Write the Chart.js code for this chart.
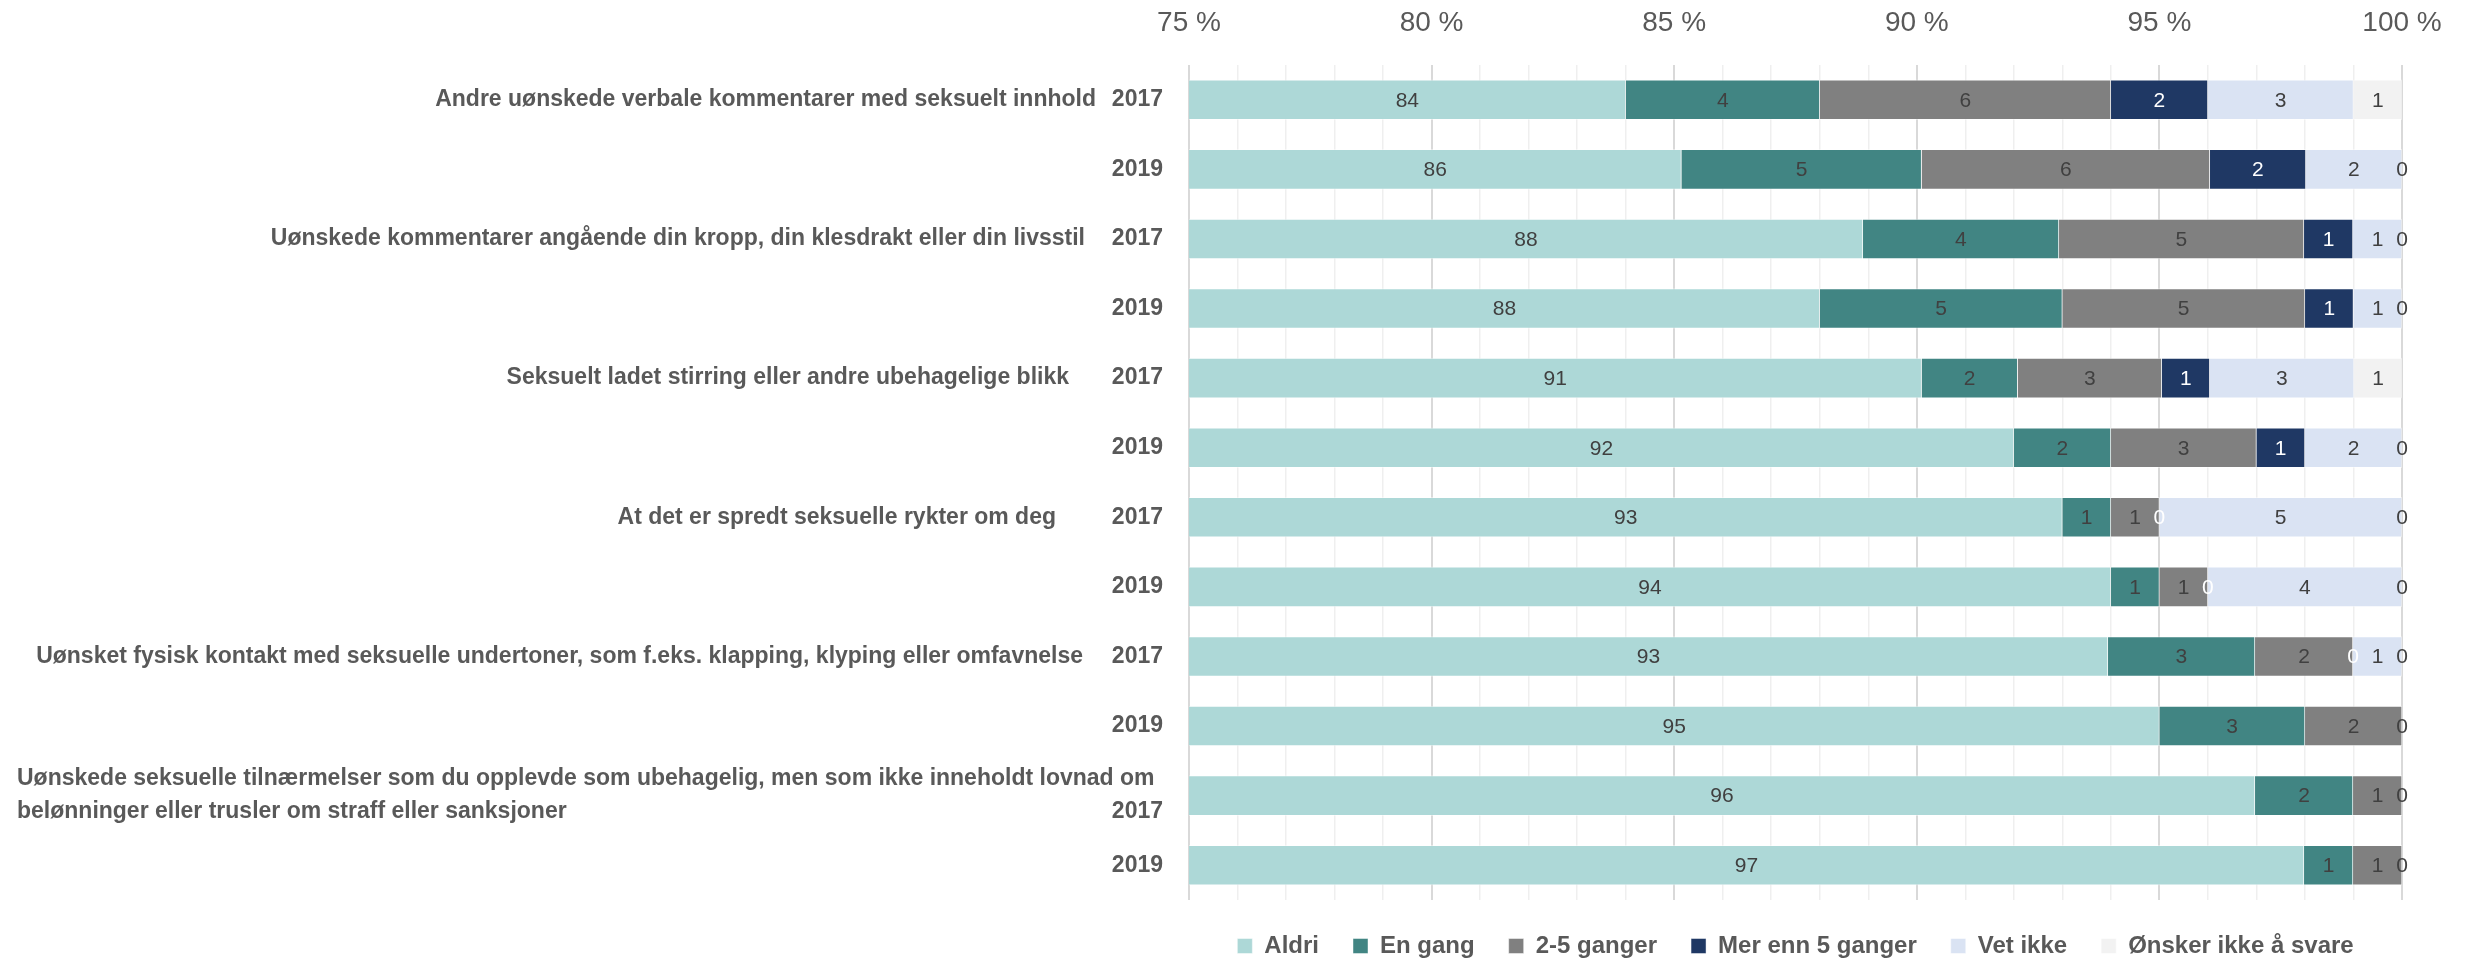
<!DOCTYPE html>
<html><head><meta charset="utf-8">
<script src="https://cdn.jsdelivr.net/npm/chart.js@4"></script>
<style>html,body{margin:0;padding:0;background:#fff}</style>
</head><body>
<canvas id="c" width="2471" height="960"></canvas>
<script>
// ---- data ----
const years = ['2017', '2019'];
const questions = [
  'Andre uønskede verbale kommentarer med seksuelt innhold',
  'Uønskede kommentarer angående din kropp, din klesdrakt eller din livsstil',
  'Seksuelt ladet stirring eller andre ubehagelige blikk',
  'At det er spredt seksuelle rykter om deg',
  'Uønsket fysisk kontakt med seksuelle undertoner, som f.eks. klapping, klyping eller omfavnelse',
  ['Uønskede seksuelle tilnærmelser som du opplevde som ubehagelig, men som ikke inneholdt lovnad om',
   'belønninger eller trusler om straff eller sanksjoner']
];
const seriesNames = ['Aldri', 'En gang', '2-5 ganger', 'Mer enn 5 ganger', 'Vet ikke', 'Ønsker ikke å svare'];
const aldri    = [84, 86, 88, 88, 91, 92, 93, 94, 93, 95, 96, 97];
const enGang   = [4, 5, 4, 5, 2, 2, 1, 1, 3, 3, 2, 1];
const ganger25 = [6, 6, 5, 5, 3, 3, 1, 1, 2, 2, 1, 1];
const merEnn5  = [2, 2, 1, 1, 1, 1, 0, 0, 0, null, null, null];
const vetIkke  = [3, 2, 1, 1, 3, 2, 5, 4, 1, null, null, null];
const onsker   = [1, 0, 0, 0, 1, 0, 0, 0, 0, 0, 0, 0];

// ---- styles ----
const seriesColors = ['#ADD8D7', '#418583', '#808080', '#1F3864', '#DAE3F3', '#F2F2F2'];
const labelColors  = ['#404040', '#404040', '#404040', '#FFFFFF', '#404040', '#404040'];
const questionRight = [1096, 1085, 1069, 1056, 1083, null];
const FONT = '"Liberation Sans", Arial, sans-serif';
const TEXT = '#595959';

// ---- build ----
const rawSeries = [aldri, enGang, ganger25, merEnn5, vetIkke, onsker];
const rowSums = aldri.map((_, i) => rawSeries.reduce((s, a) => s + (a[i] == null ? 0 : a[i]), 0));
const categories = [];
questions.forEach(q => years.forEach(y => categories.push((Array.isArray(q) ? q.join(' ') : q) + ' ' + y)));

const datasets = rawSeries.map((arr, k) => ({
  label: seriesNames[k],
  data: arr.map((v, i) => v == null ? null : v / rowSums[i] * 100),
  rawValues: arr,
  backgroundColor: seriesColors[k],
  borderColor: 'rgba(255,255,255,0.45)',
  borderWidth: 1,
  barThickness: 40
}));

Chart.defaults.font.family = FONT;

const valueLabels = {
  id: 'valueLabels',
  afterDatasetsDraw(chart) {
    const {ctx, chartArea} = chart;
    ctx.save();
    ctx.font = '21px ' + FONT;
    ctx.textAlign = 'center';
    ctx.textBaseline = 'middle';
    chart.data.datasets.forEach((ds, di) => {
      const meta = chart.getDatasetMeta(di);
      if (meta.hidden) return;
      meta.data.forEach((el, i) => {
        const v = ds.rawValues[i];
        if (v == null) return;
        const p = el.getProps(['x', 'base', 'y'], true);
        const l = Math.max(Math.min(p.x, p.base), chartArea.left);
        const r = Math.min(Math.max(p.x, p.base), chartArea.right);
        ctx.fillStyle = labelColors[di];
        ctx.fillText(String(v), (l + r) / 2, p.y + 1);
      });
    });
    ctx.restore();
  }
};

const questionLabels = {
  id: 'questionLabels',
  afterDraw(chart) {
    const {ctx} = chart;
    const ys = chart.scales.y;
    ctx.save();
    ctx.font = 'bold 23px ' + FONT;
    ctx.fillStyle = TEXT;
    ctx.textBaseline = 'middle';
    questions.forEach((q, g) => {
      const y = ys.getPixelForValue(g * years.length);
      if (Array.isArray(q)) {
        ctx.textAlign = 'left';
        q.forEach((line, j) => ctx.fillText(line, 17, y + (j - (q.length - 1) / 2) * 33));
      } else {
        ctx.textAlign = 'right';
        ctx.fillText(q, questionRight[g], y);
      }
    });
    ctx.restore();
  }
};

new Chart(document.getElementById('c'), {
  type: 'bar',
  data: {labels: categories, datasets},
  options: {
    indexAxis: 'y',
    responsive: false,
    animation: false,
    layout: {padding: {left: 0, right: 69, top: 0, bottom: 0}},
    scales: {
      x: {
        type: 'linear',
        position: 'top',
        stacked: true,
        min: 75,
        max: 100,
        border: {display: false},
        grid: {
          drawTicks: false,
          color: c => (c.tick && c.tick.value % 5 === 0) ? '#D9D9D9' : '#EFEFEF',
          lineWidth: c => (c.tick && c.tick.value % 5 === 0) ? 2 : 1.5
        },
        ticks: {
          stepSize: 1,
          maxTicksLimit: 100,
          autoSkip: false,
          maxRotation: 0,
          padding: 25,
          color: TEXT,
          font: {size: 28},
          callback: v => v % 5 === 0 ? v + ' %' : ''
        },
        afterFit: s => { s.height = 65; }
      },
      y: {
        stacked: true,
        border: {display: false},
        grid: {display: false, drawTicks: false},
        ticks: {
          padding: 26,
          color: TEXT,
          font: {size: 23, weight: 'bold', lineHeight: 1.43},
          callback: (v, i) => {
            const g = Math.floor(i / years.length);
            const yr = years[i % years.length];
            return (Array.isArray(questions[g]) && i % years.length === 0) ? ['', yr] : yr;
          }
        },
        afterFit: s => { s.width = 1189; }
      }
    },
    plugins: {
      legend: {
        position: 'bottom',
        fullSize: false,
        maxHeight: 60,
        labels: {
          boxWidth: 15,
          boxHeight: 15,
          padding: 34,
          color: TEXT,
          font: {size: 24, weight: 'bold'}
        }
      },
      tooltip: {enabled: false}
    }
  },
  plugins: [valueLabels, questionLabels]
});
</script>
</body></html>
